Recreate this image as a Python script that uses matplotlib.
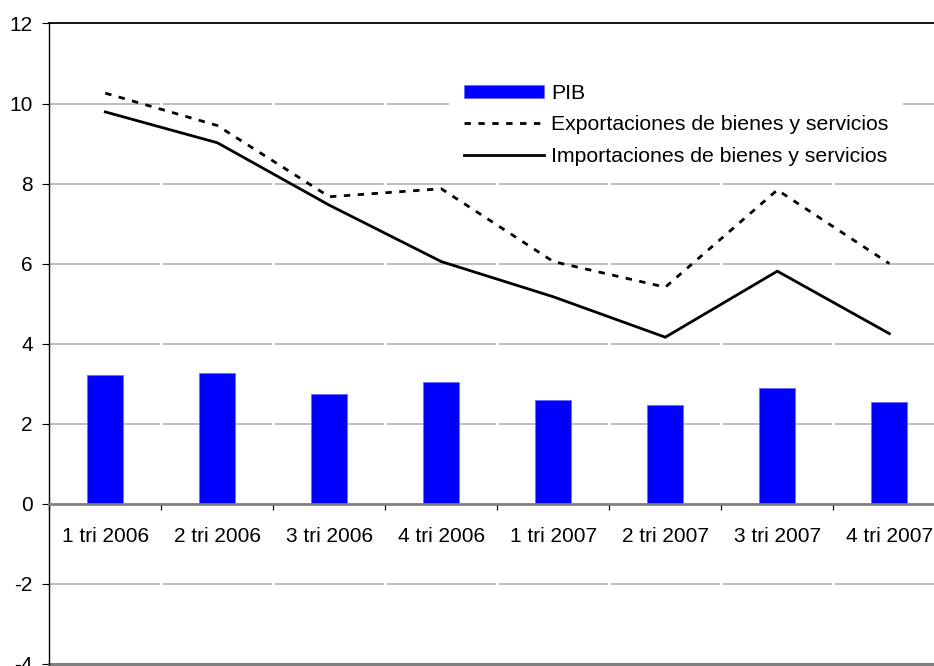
import matplotlib
matplotlib.use('Agg')
import matplotlib.pyplot as plt
import numpy as np

plt.rcParams['font.family'] = ['Liberation Sans', 'DejaVu Sans']
plt.rcParams['axes.unicode_minus'] = False

# ---- data ----
categories = ['1 tri 2006', '2 tri 2006', '3 tri 2006', '4 tri 2006',
              '1 tri 2007', '2 tri 2007', '3 tri 2007', '4 tri 2007']
pib = [3.21, 3.26, 2.74, 3.03, 2.60, 2.46, 2.90, 2.55]
exportaciones = [10.26, 9.45, 7.67, 7.87, 6.05, 5.41, 7.84, 6.00]
importaciones = [9.79, 9.02, 7.46, 6.05, 5.17, 4.16, 5.81, 4.25]
ytick_values = [-4, -2, 0, 2, 4, 6, 8, 10, 12]
ytick_labels = ['-4', '-2', '0', '2', '4', '6', '8', '10', '12']
series_names = ['PIB', 'Exportaciones de bienes y servicios',
                'Importaciones de bienes y servicios']

W, H = 934, 666
fig = plt.figure(figsize=(W / 100, H / 100), dpi=100)
ax = fig.add_axes([49.3 / W, 2.3 / H, 896 / W, 640.2 / H])

n = len(categories)
x = np.arange(n)
ax.set_xlim(-0.5, n - 0.5)
ax.set_ylim(ytick_values[0], ytick_values[-1])

# gridlines with small gaps at category boundaries (Excel-like rendering)
gap = 1.35 / 112
for yv in ytick_values:
    if yv in (0, ytick_values[0], ytick_values[-1]):
        continue
    for i in x:
        ax.hlines(yv, i - 0.5 + (gap if i > 0 else 0), i + 0.5 - gap,
                  color='#b8b8b8', lw=1.3, zorder=1)

# frame lines
ax.axhline(ytick_values[0], color='#808080', lw=2.2, zorder=2, clip_on=False)

bars = ax.bar(x, pib, width=0.32, color='#0000ff', edgecolor='#6a6aff',
              linewidth=0.6, zorder=3, label=series_names[0])
l_exp, = ax.plot(x, exportaciones, color='black', lw=2.0,
                 linestyle=(0, (2.3, 2.7)), dash_capstyle='butt', zorder=5,
                 label=series_names[1])
l_imp, = ax.plot(x, importaciones, color='black', lw=2.0, zorder=5,
                 solid_joinstyle='miter', label=series_names[2])

# spines
ax.spines['right'].set_visible(False)
ax.spines['top'].set_color('black')
ax.spines['top'].set_linewidth(1.3)
ax.spines['left'].set_color('black')
ax.spines['left'].set_linewidth(1.0)
ax.spines['bottom'].set_position(('data', 0))
ax.spines['bottom'].set_color('#808080')
ax.spines['bottom'].set_linewidth(2.0)
ax.spines['bottom'].set_zorder(4)

# y ticks
ax.set_yticks(ytick_values)
ax.set_yticklabels(ytick_labels)
ax.tick_params(axis='y', direction='out', length=4.8, width=0.8, color='black',
               pad=7, labelsize=15, labelcolor='black')

# x ticks: boundaries as major ticks, labels as minor ticks
ax.set_xticks(np.arange(-0.5, n, 1.0))
ax.tick_params(axis='x', which='major', direction='out', length=4.5, width=0.9,
               color='black', labelbottom=False)
ax.set_xticks(x, minor=True)
ax.set_xticklabels(categories, minor=True)
ax.tick_params(axis='x', which='minor', length=0, pad=16.7, labelsize=15,
               labelcolor='black')

leg = ax.legend([bars, l_exp, l_imp], series_names, loc='upper left',
                bbox_to_anchor=(449 / W, (H - 69) / H),
                bbox_transform=fig.transFigure, frameon=True, fancybox=False,
                facecolor='white', edgecolor='none', framealpha=1,
                borderpad=0.7, borderaxespad=0, handlelength=3.75,
                handleheight=0.53, handletextpad=0.36, labelspacing=0.58,
                fontsize=15.3)
leg.set_zorder(6)

fig.savefig('out.png', dpi=100)
